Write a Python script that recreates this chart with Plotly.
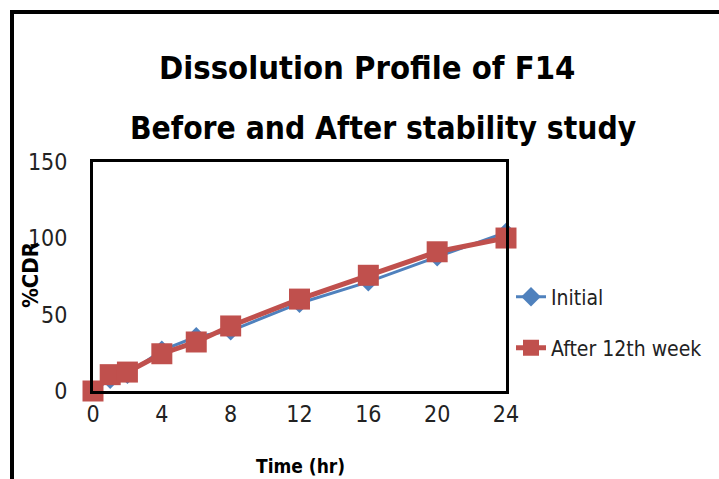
import plotly.graph_objects as go

# Dissolution data for formulation F14
time_hr = [0, 1, 2, 4, 6, 8, 12, 16, 20, 24]
initial = [0, 7.7, 11, 26.7, 35.5, 39.4, 57.5, 71.5, 87.9, 103.8]
after_12th_week = [0, 10.7, 12.4, 24.4, 32.1, 42.6, 60.2, 75.8, 91.2, 100.2]
x_ticks = [0, 4, 8, 12, 16, 20, 24]
y_ticks = [0, 50, 100, 150]
title_lines = ["Dissolution Profile of F14", "Before and After stability study"]
x_title = "Time (hr)"
y_title = "%CDR"

W, H = 719, 479
L, R, T, B = 93, 213, 162, 88
pw, ph = W - L - R, H - T - B

def px_x(px):
    return (px - L) / pw

def px_y(py):
    return (H - B - py) / ph

FONT = "DejaVu Sans Condensed, Lato, sans-serif"

fig = go.Figure()
fig.add_trace(go.Scatter(
    x=time_hr, y=initial, name="Initial", mode="lines+markers",
    line=dict(color="#4F81BD", width=3),
    marker=dict(symbol="diamond", size=15, color="#4F81BD"),
    cliponaxis=False, legend="legend",
))
fig.add_trace(go.Scatter(
    x=time_hr, y=after_12th_week, name="After 12th week", mode="lines+markers",
    line=dict(color="#C0504D", width=5),
    marker=dict(symbol="square", size=21, color="#C0504D"),
    cliponaxis=False, legend="legend2",
))

legend_style = dict(
    bgcolor="rgba(0,0,0,0)", font=dict(family=FONT, size=21, color="#222"),
    itemsizing="trace", xanchor="left", yanchor="middle",
)

# Two-line chart title, each line placed on its own
title_specs = [(367, 68, 32.5), (383, 128, 31.5)]
annotations = [
    dict(text=f"<b>{t}</b>", xref="paper", yref="paper",
         x=px_x(cx), y=px_y(cy), xanchor="center", yanchor="middle",
         showarrow=False, font=dict(family=FONT, size=fs, color="black"))
    for t, (cx, cy, fs) in zip(title_lines, title_specs)
]
# Axis titles
annotations.append(dict(
    text=f"<b>{y_title}</b>", xref="paper", yref="paper",
    x=px_x(30), y=px_y(275), xanchor="center", yanchor="middle",
    textangle=-90, showarrow=False, font=dict(family=FONT, size=22, color="black"),
))
annotations.append(dict(
    text=f"<b>{x_title}</b>", xref="paper", yref="paper",
    x=px_x(300), y=px_y(466), xanchor="center", yanchor="middle",
    showarrow=False, font=dict(family=FONT, size=19, color="black"),
))

fig.update_layout(
    width=W, height=H,
    margin=dict(l=L, r=R, t=T, b=B, autoexpand=False),
    paper_bgcolor="white", plot_bgcolor="white",
    font=dict(family=FONT, color="#222"),
    annotations=annotations,
    showlegend=True,
    legend=dict(x=px_x(511), y=px_y(297), **legend_style),
    legend2=dict(x=px_x(511), y=px_y(348), **legend_style),
    xaxis=dict(
        range=[0, 24], tickvals=x_ticks, showgrid=False, zeroline=False,
        showline=True, linecolor="black", linewidth=3, mirror=True,
        ticks="", ticklabelstandoff=0, automargin=False,
        tickfont=dict(family=FONT, size=23, color="#222"),
    ),
    yaxis=dict(
        range=[0, 150], tickvals=y_ticks, showgrid=False, zeroline=False,
        showline=True, linecolor="black", linewidth=3, mirror=True,
        ticks="", ticklabelstandoff=18, automargin=False,
        tickfont=dict(family=FONT, size=23, color="#222"),
    ),
    shapes=[dict(
        type="rect", xref="paper", yref="paper",
        x0=px_x(12), x1=px_x(740), y0=px_y(500), y1=px_y(12),
        line=dict(color="black", width=4), layer="below",
    )],
)

fig.write_html("out.html")
